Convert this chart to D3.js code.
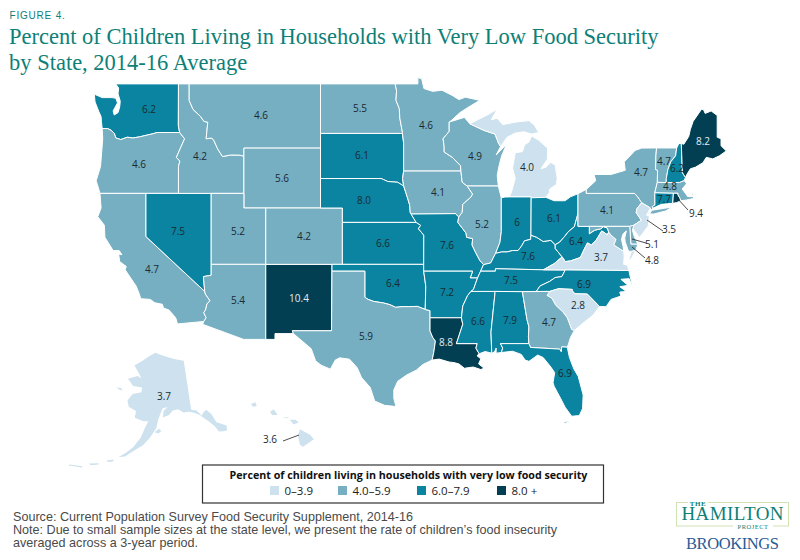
<!DOCTYPE html>
<html>
<head>
<meta charset="utf-8">
<script src="https://cdn.jsdelivr.net/npm/d3@7"></script>
<style>
  html, body { margin: 0; padding: 0; background: #fff; }
  svg { display: block; }
</style>
</head>
<body>
<svg id="chart" width="800" height="560"></svg>
<script>
// State values (NE and MI print as 8.0 and 4.0 but are binned one class lower)
const stateNames = ["WA","OR","CA","NV","ID","MT","WY","UT","AZ","NM","CO","ND","SD","NE","KS","OK","TX",
  "MN","IA","MO","AR","LA","WI","IL","MS","MI","IN","KY","TN","AL","OH","WV","VA","NC","SC","GA","FL",
  "PA","NY","NJ","DE","MD","CT","RI","MA","VT","NH","ME","AK","HI"];
const stateValues = [6.2,4.6,4.7,7.5,4.2,4.6,5.6,5.2,5.4,10.4,4.2,5.5,6.1,7.96,6.6,6.4,5.9,
  4.6,4.1,7.6,7.2,8.8,4.9,5.2,6.6,3.96,6,7.6,7.5,7.9,6.1,6.4,3.7,6.9,2.8,4.7,6.9,
  4.1,4.7,3.5,5.1,4.8,7.7,9.4,4.8,4.7,6.2,8.2,3.7,3.6];

// Legend bins
const binBreaks = [4, 6, 8];
const binLabels = ["0\u20133.9", "4.0\u20135.9", "6.0\u20137.9", "8.0 +"];
const binColors = ["#cde2ee", "#76afc2", "#0a84a0", "#033f53"];

// Shared river borders (lon, lat)
const ohioRiver = [[-89.15,36.98],[-88.5,37.1],[-88.05,37.8],[-87.5,37.9],[-87,37.9],[-86.5,38],[-86,38],[-85.7,38.3],[-85.4,38.7],[-84.85,38.8],[-84.82,39.1],[-84.3,38.95],[-83.7,38.65],[-83,38.73],[-82.6,38.42]];
const ohioUpper = [[-82.6,38.42],[-82.2,38.6],[-81.75,39],[-81.4,39.35],[-80.85,39.7],[-80.6,40.4],[-80.52,40.64]];
const columbia = [[-124,46.25],[-123.5,46.25],[-123.2,46.15],[-122.9,45.95],[-122.75,45.65],[-122.3,45.55],[-121.7,45.7],[-121.2,45.65],[-120.6,45.72],[-120,45.82],[-119.3,45.93],[-119,46],[-116.92,46]];
const snake = [[-117.03,42],[-117.03,43.8],[-116.9,44.15],[-117.22,44.4],[-116.85,45],[-116.47,45.6],[-116.92,46]];
const bitterroot = [[-116.05,49],[-116.05,48],[-115.7,47.45],[-115,47],[-114.7,46.7],[-114.35,46.65],[-114.5,45.6],[-114,45.65],[-113.8,45.5],[-113.45,44.95],[-113,44.45],[-112.3,44.55],[-111.5,44.55],[-111.05,44.48]];
const coloradoRiver = [[-114.63,35],[-114.57,34.8],[-114.15,34.3],[-114.43,34.05],[-114.55,33.6],[-114.72,33.4],[-114.5,33],[-114.72,32.72]];
const redRiver = [[-94.48,33.64],[-95.2,33.87],[-96,33.85],[-96.6,33.85],[-97.2,33.8],[-97.7,34],[-98.3,34.13],[-99.2,34.25],[-99.7,34.4],[-100,34.56]];
const redNorth = [[-97.23,49],[-97.1,48.6],[-97.15,48],[-96.85,47.5],[-96.8,46.9],[-96.56,46],[-96.56,45.94]];
const sabine = [[-93.85,29.7],[-93.7,30.3],[-93.55,31.2],[-93.8,31.5],[-94.04,31.99]];
const lowerMiss = [[-91.63,31],[-91.4,31.6],[-91.05,32.5],[-91.17,33]];
const wvChain = [[-81.97,37.54],[-81.68,37.2],[-81.2,37.25],[-80.3,37.5],[-79.95,38.1],[-79.65,38.55],[-79.3,38.4],[-78.85,38.75],[-78.35,39.4],[-77.83,39.13],[-77.72,39.32]];
const rev = a => a.slice().reverse();

// State outlines as [lon, lat] rings, hand-simplified
const stateShapes = {
  WA: [[[-122.76,49],[-117.03,49],[-117.04,46.42],...rev(columbia),[-124.07,46.7],[-124.1,47],[-124.3,47.3],[-124.65,47.9],[-124.72,48.38],[-124,48.17],[-123.1,48.17],[-122.75,48.13],[-122.6,47.85],[-123,47.35],[-122.9,47.1],[-122.55,47.25],[-122.4,47.6],[-122.35,47.95],[-122.55,48.4],[-122.5,48.75]]],
  OR: [[...columbia,...rev(snake),[-124.2,42],[-124.4,42.5],[-124.55,42.85],[-124.15,43.8],[-124.05,44.7],[-123.95,45.6]]],
  CA: [[[-124.2,42],[-120,42],[-120,39],...coloradoRiver,[-117.12,32.53],[-117.28,33],[-117.9,33.6],[-118.4,33.75],[-118.5,34.03],[-119.2,34.15],[-119.6,34.4],[-120.47,34.45],[-120.65,34.9],[-120.9,35.4],[-121.9,36.6],[-121.8,36.85],[-122.4,37.2],[-122.5,37.75],[-122.2,37.7],[-122.45,38],[-123,38],[-123.75,38.95],[-123.8,39.8],[-124.4,40.4],[-124.1,41]]],
  NV: [[[-120,42],[-114.04,42],[-114.04,36.2],[-114.75,36.1],[-114.63,35],[-120,39]]],
  ID: [[[-117.03,49],...bitterroot,[-111.05,42],...snake,[-117.04,46.42]]],
  MT: [[...bitterroot.slice(0,1),[-104.05,49],[-104.05,45],[-111.05,45],...rev(bitterroot)]],
  WY: [[[-111.05,45],[-104.05,45],[-104.05,41],[-111.05,41]]],
  UT: [[[-114.04,42],[-111.05,42],[-111.05,41],[-109.05,41],[-109.05,37],[-114.04,37]]],
  AZ: [[[-114.04,37],[-109.05,37],[-109.05,31.33],[-111.07,31.33],[-114.82,32.5],...rev(coloradoRiver),[-114.75,36.1],[-114.04,36.2]]],
  NM: [[[-109.05,37],[-103,37],[-103.04,32],[-106.62,32],[-106.53,31.78],[-108.21,31.78],[-108.21,31.33],[-109.05,31.33]]],
  CO: [[[-109.05,41],[-102.05,41],[-102.05,37],[-109.05,37]]],
  ND: [[[-104.05,49],...redNorth,[-104.05,45.94]]],
  SD: [[[-104.05,45.94],[-96.56,45.94],[-96.45,45.3],[-96.45,43.5],[-96.55,43],[-96.45,42.5],[-97,42.75],[-97.9,42.8],[-98.5,43],[-104.05,43]]],
  NE: [[[-104.05,43],[-98.5,43],[-97.9,42.8],[-97,42.75],[-96.45,42.5],[-96.1,41.7],[-95.9,41.2],[-95.85,40.7],[-95.31,40],[-102.05,40],[-102.05,41],[-104.05,41]]],
  KS: [[[-102.05,40],[-95.31,40],[-94.9,39.8],[-95.1,39.55],[-94.61,39.1],[-94.62,37],[-102.05,37]]],
  OK: [[[-103,37],[-94.62,37],[-94.62,36.5],[-94.43,35.4],...redRiver,[-100,36.5],[-103,36.5]]],
  TX: [[[-106.62,32],[-103.04,32],[-103,36.5],[-100,36.5],...rev(redRiver),[-94.04,33.55],[-94.04,33],...rev(sabine),[-94.7,29.35],[-95.3,28.9],[-96.2,28.5],[-97,28],[-97.35,27.3],[-97.35,26.6],[-97.15,25.95],[-98.2,26.05],[-99.1,26.4],[-99.5,27.5],[-100.3,28.3],[-100.7,29.1],[-101.4,29.77],[-102.3,29.88],[-102.7,29.7],[-103.15,28.98],[-104,29.3],[-104.5,29.65],[-104.9,30.6],[-106,31.4],[-106.53,31.78]]],
  MN: [[...redNorth.slice(0,1),[-95.15,49],[-95.15,49.38],[-94.8,49.3],[-94.6,48.72],[-93.8,48.55],[-92.95,48.62],[-92,48.3],[-91.4,48.05],[-90.8,48.2],[-89.5,48],[-90.5,47.6],[-91.3,47.25],[-92.1,46.75],[-92.29,46.66],[-92.29,46.07],[-92.85,45.6],[-92.75,45.1],[-92.75,44.75],[-92,44.4],[-91.25,43.85],[-91.22,43.5],[-96.45,43.5],[-96.45,45.3],...rev(redNorth)]],
  IA: [[[-96.45,43.5],[-91.22,43.5],[-91.1,42.75],[-90.65,42.5],[-90.15,41.95],[-90.3,41.75],[-91.05,41.25],[-91.1,40.7],[-91.42,40.38],[-91.73,40.61],[-95.77,40.58],[-95.85,40.7],[-95.9,41.2],[-96.1,41.7],[-96.45,42.5],[-96.55,43]]],
  MO: [[[-95.77,40.58],[-91.73,40.61],[-91.42,40.38],[-91.5,40],[-90.75,39.25],[-90.7,38.95],[-90.15,38.85],[-90.2,38.4],[-89.9,37.9],[-89.5,37.3],[-89.15,36.98],[-89.42,36.5],[-89.7,36],[-90.37,36],[-90.15,36.5],[-94.62,36.5],[-94.62,37],[-94.61,39.1],[-95.1,39.55],[-94.9,39.8],[-95.31,40]]],
  AR: [[[-94.62,36.5],[-90.15,36.5],[-90.37,36],[-89.7,36],[-90.07,35.15],[-90.3,35],[-90.6,34.7],[-91.05,33.9],[-91.17,33],[-94.04,33],[-94.04,33.55],[-94.48,33.64],[-94.43,35.4]]],
  LA: [[[-94.04,33],...rev(lowerMiss),[-89.73,31],[-89.85,30.65],[-89.55,30.2],[-89.75,30.05],[-89.4,29.8],[-89.6,29.4],[-89.1,29.05],[-89.4,28.95],[-90.1,29.15],[-90.9,29.05],[-91.4,29.4],[-91.85,29.5],[-92.3,29.55],[-93.2,29.78],...sabine]],
  MS: [[[-90.3,35],[-88.2,35],[-88.1,34.9],[-88.47,31.9],[-88.4,30.25],[-89,30.38],[-89.55,30.2],[-89.85,30.65],[-89.73,31],...lowerMiss,[-91.05,33.9],[-90.6,34.7]]],
  AL: [[[-88.2,35],[-85.6,34.98],[-85.18,32.87],[-85,32.3],[-85.05,31.55],[-85,31],[-87.6,31],[-87.4,30.65],[-87.52,30.3],[-88,30.25],[-88,30.65],[-88.15,30.35],[-88.4,30.25],[-88.47,31.9],[-88.1,34.9]]],
  FL: [[[-87.6,31],[-85,31],[-84.86,30.7],[-82.2,30.57],[-82.05,30.36],[-82,30.75],[-81.5,30.72],[-81.3,29.9],[-80.9,29],[-80.5,28.4],[-80.05,26.9],[-80.1,25.8],[-80.4,25.2],[-81.1,25.15],[-81.7,25.9],[-82.1,26.6],[-82.7,27.6],[-82.8,27.9],[-82.65,28.7],[-83,29.15],[-83.7,29.9],[-84.2,30.1],[-85,29.6],[-85.35,29.7],[-85.7,30.15],[-86.5,30.4],[-87.52,30.3],[-87.4,30.65]],
       [[-81.8,24.55],[-81.4,24.65],[-81.4,24.75],[-81.8,24.65]]],
  GA: [[[-85.6,34.98],[-83.11,35],[-83.35,34.7],[-82.9,34.48],[-82.55,33.95],[-81.9,33.45],[-81.5,33],[-81.1,32.1],[-80.85,32.03],[-81.2,31.5],[-81.4,30.95],[-81.5,30.72],[-82,30.75],[-82.05,30.36],[-82.2,30.57],[-84.86,30.7],[-85,31],[-85.05,31.55],[-85,32.3],[-85.18,32.87]]],
  SC: [[[-83.11,35],[-82.3,35.2],[-81.05,35.15],[-81.05,35.05],[-80.8,34.82],[-79.67,34.8],[-78.55,33.86],[-79.15,33.2],[-79.9,32.7],[-80.85,32.03],[-81.1,32.1],[-81.5,33],[-81.9,33.45],[-82.55,33.95],[-82.9,34.48],[-83.35,34.7]]],
  NC: [[[-84.32,35],[-83.11,35],[-82.3,35.2],[-81.05,35.15],[-81.05,35.05],[-80.8,34.82],[-79.67,34.8],[-78.55,33.86],[-77.95,33.85],[-77.5,34.4],[-76.6,34.65],[-76.7,34.95],[-76.1,35],[-76.7,35.35],[-75.95,35.45],[-76.6,35.9],[-75.85,35.95],[-75.5,35.25],[-75.75,36.1],[-75.87,36.55],[-81.68,36.59],[-82,36.1],[-82.6,36.03],[-83.1,35.75],[-84,35.4]]],
  TN: [[[-90.3,35],[-90.07,35.15],[-89.7,36],[-89.42,36.5],[-88.07,36.5],[-88.06,36.68],[-83.68,36.6],[-81.68,36.59],[-82,36.1],[-82.6,36.03],[-83.1,35.75],[-84,35.4],[-84.32,35],[-85.6,34.98],[-88.2,35]]],
  KY: [[[-89.42,36.5],...ohioRiver,[-82.6,38.15],[-81.97,37.54],[-82.7,37.05],[-83.68,36.6],[-88.06,36.68],[-88.07,36.5]]],
  IL: [[[-90.65,42.5],[-87.8,42.5],[-87.55,41.75],[-87.53,41.7],[-87.53,39.35],[-87.65,38.6],[-88.05,37.8],[-88.5,37.1],[-89.15,36.98],[-89.5,37.3],[-89.9,37.9],[-90.2,38.4],[-90.15,38.85],[-90.7,38.95],[-90.75,39.25],[-91.5,40],[-91.42,40.38],[-91.1,40.7],[-91.05,41.25],[-90.3,41.75],[-90.15,41.95]]],
  IN: [[[-87.53,41.7],[-87.2,41.75],[-86.8,41.76],[-84.8,41.76],[-84.82,39.1],...rev(ohioRiver.slice(2,11)),[-87.65,38.6],[-87.53,39.35]]],
  OH: [[[-84.8,41.7],[-83.45,41.73],[-82.7,41.5],[-81.7,41.5],[-81.2,41.77],[-80.52,41.98],...rev(ohioUpper),...rev(ohioRiver.slice(10,14)),[-84.82,39.1]]],
  WV: [[[-80.52,40.64],[-80.52,39.72],[-79.48,39.72],[-79.48,39.2],[-79,39.45],[-78.45,39.55],[-78.2,39.7],[-77.83,39.6],...rev(wvChain),[-82.6,38.15],...ohioUpper]],
  VA: [[[-83.68,36.6],[-81.68,36.59],[-75.87,36.55],[-76,36.93],[-76.35,37],[-76.3,37.6],[-76.35,37.95],[-76.95,38.25],[-77.25,38.4],[-77.04,38.8],[-77.5,39.1],...rev(wvChain),[-82.7,37.05]],
       [[-75.95,37.15],[-75.63,37.95],[-75.25,38.03],[-75.6,37.5]]],
  MD: [[[-79.48,39.72],[-75.79,39.72],[-75.69,38.46],[-75.05,38.45],[-75.25,38.03],[-75.63,37.95],[-75.9,37.95],[-76.2,38.6],[-76.25,38.9],[-76.1,39.4],[-76.4,39.2],[-76.55,38.8],[-76.4,38.3],[-76.35,37.95],[-76.95,38.25],[-77.25,38.4],[-77.04,38.8],[-77.5,39.1],[-77.72,39.32],[-77.83,39.6],[-78.2,39.7],[-78.45,39.55],[-79,39.45],[-79.48,39.2]]],
  DE: [[[-75.79,39.72],[-75.42,39.8],[-75.55,39.45],[-75.4,39.05],[-75.05,38.45],[-75.69,38.46]]],
  PA: [[[-80.52,41.98],[-79.76,42.27],[-79.76,42],[-75.35,42],[-75.05,41.75],[-74.7,41.36],[-75.13,40.97],[-75.2,40.68],[-74.73,40.15],[-75.42,39.8],[-75.79,39.72],[-80.52,39.72],[-80.52,40.64]]],
  NJ: [[[-74.7,41.36],[-73.9,41],[-74.25,40.5],[-74,40.45],[-74.1,39.75],[-74.9,38.93],[-75.2,39.25],[-75.55,39.6],[-75.42,39.8],[-74.73,40.15],[-75.2,40.68],[-75.13,40.97]]],
  NY: [[[-79.76,42.27],[-78.9,42.85],[-79.05,43.27],[-77.5,43.27],[-76.2,43.55],[-76.3,44.1],[-75.3,44.85],[-74.7,45],[-73.34,45.01],[-73.4,44.5],[-73.43,43.6],[-73.25,43.55],[-73.27,42.75],[-73.5,42.05],[-73.49,41.21],[-73.73,41.1],[-73.65,41],[-73.9,40.8],[-73.9,41],[-74.7,41.36],[-75.05,41.75],[-75.35,42],[-79.76,42]],
       [[-74,40.6],[-73.75,40.85],[-72.6,40.98],[-71.9,41.07],[-72.5,40.8],[-73.6,40.58]]],
  CT: [[[-73.5,42.05],[-71.8,42.02],[-71.86,41.32],[-72.9,41.25],[-73.65,41],[-73.73,41.1],[-73.49,41.21]]],
  RI: [[[-71.8,42.02],[-71.38,42.02],[-71.38,41.9],[-71.2,41.67],[-71.12,41.5],[-71.5,41.37],[-71.86,41.32]]],
  MA: [[[-73.5,42.05],[-73.27,42.75],[-72.46,42.73],[-71.25,42.74],[-70.82,42.87],[-70.6,42.65],[-71,42.3],[-70.65,41.95],[-70.5,41.78],[-70,41.78],[-70.2,42.07],[-69.95,41.9],[-69.97,41.65],[-70.6,41.55],[-71.12,41.5],[-71.2,41.67],[-71.38,41.9],[-71.38,42.02],[-71.8,42.02]]],
  VT: [[[-73.34,45.01],[-71.5,45.01],[-71.6,44.5],[-72.05,44.1],[-72.3,43.6],[-72.45,43],[-72.46,42.73],[-73.27,42.75],[-73.25,43.55],[-73.43,43.6],[-73.4,44.5]]],
  NH: [[[-71.5,45.01],[-71.3,45.3],[-71.08,45.3],[-70.98,43.4],[-70.7,43.07],[-70.82,42.87],[-71.25,42.74],[-72.46,42.73],[-72.45,43],[-72.3,43.6],[-72.05,44.1],[-71.6,44.5]]],
  ME: [[[-71.08,45.3],[-70.85,45.25],[-70.4,45.75],[-70.25,46.2],[-70,46.7],[-69.23,47.46],[-69.05,47.43],[-68.9,47.2],[-68.35,47.35],[-67.8,47.07],[-67.8,45.7],[-67.45,45.6],[-67.45,45.15],[-66.97,44.82],[-67.6,44.5],[-68.2,44.3],[-68.8,44.4],[-69.1,44.05],[-69.8,43.75],[-70.25,43.65],[-70.55,43.3],[-70.7,43.07],[-70.98,43.4]]],
  WI: [[[-92.29,46.66],[-92,46.72],[-90.9,46.95],[-90.4,46.55],[-89.1,46.13],[-88.1,45.9],[-87.8,45.35],[-87.6,45.1],[-88,44.55],[-87.05,45.25],[-87.5,44.5],[-87.75,43.8],[-87.9,43.2],[-87.8,42.5],[-90.65,42.5],[-91.1,42.75],[-91.22,43.5],[-91.25,43.85],[-92,44.4],[-92.75,44.75],[-92.75,45.1],[-92.85,45.6],[-92.29,46.07]]],
  MI: [[[-86.8,41.76],[-84.8,41.76],[-84.8,41.7],[-83.45,41.73],[-83.15,42.05],[-83.1,42.3],[-82.5,42.6],[-82.42,43],[-82.6,43.9],[-83,44.07],[-83.45,43.75],[-83.9,43.65],[-83.3,44.3],[-83.3,45],[-84.1,45.5],[-84.75,45.78],[-85,45.4],[-85.4,45.2],[-85.6,44.77],[-86.25,44.7],[-86.5,43.7],[-86.25,43],[-86.6,42.1]],
       [[-90.4,46.55],[-89.1,46.13],[-88.1,45.9],[-87.8,45.35],[-87.6,45.1],[-87,45.7],[-86.3,45.95],[-85.5,46.05],[-84.75,45.9],[-84.1,46],[-84.5,46.45],[-85,46.75],[-86.1,46.67],[-87.4,46.5],[-87.9,46.9],[-88.45,46.8],[-87.9,47.47],[-88.8,47.1],[-89.7,46.8]]],
  // Alaska's peninsula and chain are pulled south to sit where the inset draws them
  AK: [[[-141,69.65],[-141,60.3],[-140,60.2],[-139,60],[-137.5,58.9],[-136.5,59.45],[-135.5,59.8],[-134,58.8],[-133,57],[-131.8,56.6],[-130,55.9],[-130.3,55],[-131.5,55],[-133,55.2],[-134,56.5],[-135.5,57.5],[-136.6,58.2],[-138,59],[-139.8,59.6],[-142,60],[-144,60],[-146,60.7],[-148,60.5],[-149.5,59.7],[-151.8,59.2],[-151.5,60.5],[-150,61.2],[-152,60.9],[-153.5,58.8],[-154,57.2],[-156,55.3],[-158,53.8],[-160.5,52.6],[-163,51.2],[-164.8,50.9],[-163,51.9],[-161,53.2],[-159,55.2],[-158,57],[-157,58.4],[-159,58.3],[-162,58.7],[-162,60],[-165,60.5],[-166,61.6],[-164.5,63],[-161,63.6],[-161,64.5],[-165,64.5],[-168,65.6],[-164,66.5],[-162,66.2],[-163.5,67],[-166.5,68.3],[-163,69.5],[-160,70.5],[-156.6,71.35],[-152,70.85],[-146,70.15]],
       [[-154.6,56.4],[-153.2,56.2],[-152.3,56.7],[-153,57.1]],
       [[-171.7,63.4],[-170,63.6],[-168.8,63.2],[-170.2,63.2]],
       [[-168,49.7],[-166.2,50.2],[-166,49.9],[-167.5,49.5]],
       [[-172.5,48.2],[-170,48.8],[-169.8,48.6],[-172,48]],
       [[-177.5,46.7],[-174,47.3],[-174,47.05],[-177.5,46.5]]],
  HI: [[[-155.9,20.25],[-155.1,19.85],[-154.8,19.5],[-155.65,18.95],[-155.9,19.1],[-156.05,19.75]],
       [[-156.7,20.95],[-156.25,20.95],[-156,20.75],[-156.4,20.6]],
       [[-157.3,21.1],[-156.75,21.15],[-156.9,21.05]],
       [[-158.25,21.55],[-157.95,21.7],[-157.65,21.3],[-158.1,21.3]],
       [[-159.75,22.1],[-159.4,22.23],[-159.3,21.95],[-159.6,21.9]]]
};

// Where the value labels sit on the page (state: x, y)
const labelSpots = {
  WA:[149,109],OR:[139,164],CA:[152,269],NV:[178,231],ID:[200,156],MT:[261,115],WY:[282,178],UT:[238,231],
  AZ:[238,300],NM:[299,298],CO:[304,236],ND:[360,108],SD:[362,155],NE:[364,200],KS:[383,243],OK:[393,283],
  TX:[366,336],MN:[426,125],IA:[438,192],MO:[447,245],AR:[447,292],LA:[446,342],WI:[475,156],IL:[482,224],
  MS:[478,321],MI:[527,167],IN:[517,222],KY:[528,256],TN:[511,280],AL:[510,320],OH:[554,218],WV:[576,241],
  VA:[601,257],NC:[584,284],SC:[578,305],GA:[549,322],FL:[565,373],PA:[607,210],NY:[641,172],NJ:[669,229],
  DE:[652,244],MD:[652,260],CT:[664,199],RI:[696,213],MA:[670,186],VT:[664,161],NH:[677,168],ME:[703,141],
  AK:[164,396],HI:[270,439]
};
// Leader lines for the small states
const leaders = { RI:[677,198,688,210], NJ:[647,220,663,231], DE:[632,239,646,243], MD:[632,247,645,258], HI:[283,441,299,435] };

const svg = d3.select("#chart");
const color = d3.scaleThreshold().domain(binBreaks).range(binColors);

// Lower 48 is a plain Mercator, the insets get their own
const mainProj = d3.geoMercator().scale(627).center([-104.05, 41]).translate([320.5, 208]);
const akProj = d3.geoConicEqualArea().parallels([55, 65]).rotate([151, 0]).center([0, 64]).scale(305).translate([165, 392]);
const hiProj = d3.geoMercator().scale(728).center([-155.5, 19.6]).translate([305, 438]);
const projFor = s => s === "AK" ? akProj : s === "HI" ? hiProj : mainProj;

function statePath(name) {
  const proj = projFor(name);
  const line = d3.line().x(p => proj(p)[0]).y(p => proj(p)[1]);
  return stateShapes[name].map(ring => line(ring) + "Z").join("");
}

// The insets touch nothing, and a white edge would eat their small islands
svg.append("g").selectAll("path")
  .data(stateNames)
  .enter().append("path")
  .attr("d", d => statePath(d))
  .attr("fill", (d, i) => color(stateValues[i]))
  .attr("stroke", d => d === "AK" || d === "HI" ? "none" : "#fff")
  .attr("stroke-width", 1)
  .attr("stroke-linejoin", "round");

// Leader lines
svg.append("g").selectAll("line")
  .data(Object.values(leaders))
  .enter().append("line")
  .attr("x1", d => d[0]).attr("y1", d => d[1])
  .attr("x2", d => d[2]).attr("y2", d => d[3])
  .attr("stroke", "#222").attr("stroke-width", 0.8);

// Value labels
svg.append("g").selectAll("text")
  .data(stateNames)
  .enter().append("text")
  .attr("x", d => labelSpots[d][0])
  .attr("y", d => labelSpots[d][1] + 3.5)
  .attr("text-anchor", "middle")
  .attr("font-family", "'Open Sans', sans-serif")
  .attr("font-size", 10)
  .attr("fill", (d, i) => ["NM","LA","ME"].includes(d) ? "#e4eef2" : "#1a2a30")
  .text((d, i) => d === "IN" ? "6" : stateValues[i].toFixed(1));

// Headings
svg.append("text").attr("x", 9.5).attr("y", 19)
  .attr("font-family", "'Liberation Sans', sans-serif").attr("font-size", 10)
  .attr("letter-spacing", 0.8).attr("fill", "#0d8078").text("FIGURE 4.");
const titleLines = ["Percent of Children Living in Households with Very Low Food Security", "by State, 2014-16 Average"];
svg.selectAll(".title").data(titleLines).enter().append("text")
  .attr("class", "title").attr("x", 9).attr("y", (d, i) => 44 + i * 25.5)
  .attr("font-family", "'Liberation Serif', serif").attr("font-size", 22.5)
  .attr("fill", "#0d8078").text(d => d);

// Legend box
const legendSpots = [270, 338, 417, 497];
const legend = svg.append("g");
legend.append("rect").attr("x", 202.5).attr("y", 465).attr("width", 401).attr("height", 38)
  .attr("fill", "#fff").attr("stroke", "#333").attr("stroke-width", 1.2);
legend.append("text").attr("x", 408.5).attr("y", 478.5).attr("text-anchor", "middle")
  .attr("font-family", "'Open Sans', sans-serif").attr("font-weight", 700).attr("font-size", 10.7)
  .attr("fill", "#111").text("Percent of children living in households with very low food security");
binLabels.forEach((label, i) => {
  legend.append("rect").attr("x", legendSpots[i]).attr("y", 486).attr("width", 9).attr("height", 9).attr("fill", binColors[i]);
  legend.append("text").attr("x", legendSpots[i] + 14.5).attr("y", 495)
    .attr("font-family", "'Open Sans', sans-serif").attr("font-size", 11.5).attr("fill", "#222").text(label);
});

// Source note
const noteLines = ["Source: Current Population Survey Food Security Supplement, 2014-16",
  "Note: Due to small sample sizes at the state level, we present the rate of children\u2019s food insecurity",
  "averaged across a 3-year period."];
const noteWidths = [400, 544, 185];
svg.selectAll(".note").data(noteLines).enter().append("text")
  .attr("class", "note").attr("x", 13).attr("y", (d, i) => 521 + i * 13)
  .attr("font-family", "'Liberation Sans', sans-serif").attr("font-size", 12.6)
  .attr("textLength", (d, i) => noteWidths[i])
  .attr("fill", "#4a4a4a").text(d => d);

// Logo block
const logo = svg.append("g").attr("font-family", "'Liberation Serif', serif").attr("text-anchor", "middle");
logo.append("rect").attr("x", 676.5).attr("y", 502.5).attr("width", 112).attr("height", 23.5)
  .attr("fill", "none").attr("stroke", "#cfe3b4").attr("stroke-width", 1);
logo.append("rect").attr("x", 688).attr("y", 499).attr("width", 20).attr("height", 6).attr("fill", "#fff");
logo.append("rect").attr("x", 733).attr("y", 523).attr("width", 40).attr("height", 6).attr("fill", "#fff");
logo.append("text").attr("x", 698).attr("y", 505.5).attr("font-size", 7).attr("letter-spacing", 0.5).attr("fill", "#0d8078").attr("font-weight", 700).text("THE");
logo.append("text").attr("x", 732.5).attr("y", 520).attr("font-size", 19).attr("fill", "#0d8078").attr("textLength", 102).text("HAMILTON");
logo.append("text").attr("x", 753).attr("y", 528.5).attr("font-size", 6.5).attr("letter-spacing", 0.5).attr("fill", "#0d8078").text("PROJECT");
logo.append("text").attr("x", 732.5).attr("y", 549).attr("font-size", 16.5).attr("fill", "#2a5c94").attr("textLength", 93).text("BROOKINGS");
</script>
</body>
</html>
